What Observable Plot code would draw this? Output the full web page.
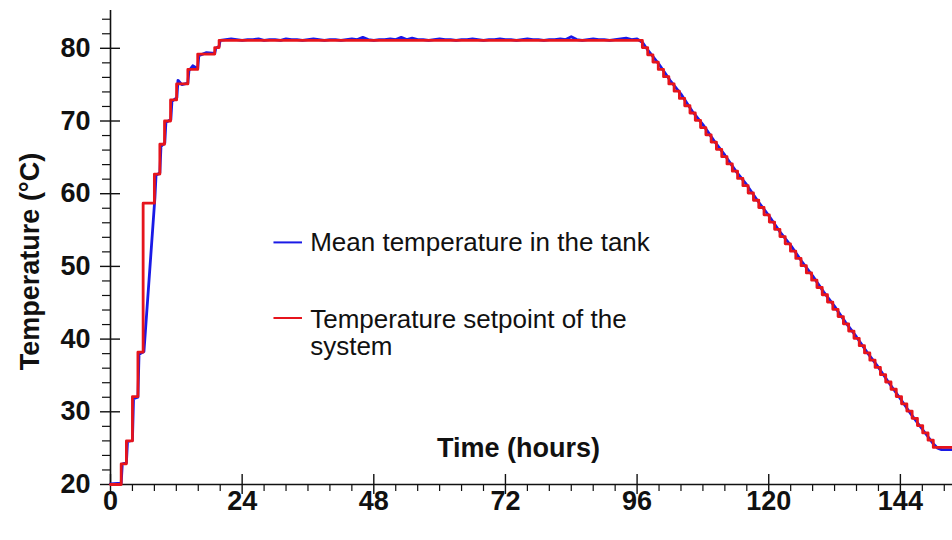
<!DOCTYPE html>
<html>
<head>
<meta charset="utf-8">
<script src="https://cdn.jsdelivr.net/npm/d3@7"></script>
<script src="https://cdn.jsdelivr.net/npm/@observablehq/plot@0.6"></script>
<style>
  html, body { margin: 0; padding: 0; background: #fff; }
</style>
</head>
<body>
<div id="chart"></div>
<script>
// ---------- DATA (hours, °C) ----------
const xMajorTicks = [0, 24, 48, 72, 96, 120, 144];
const xMinorTicks = [4, 8, 12, 16, 20, 28, 32, 36, 40, 44, 52, 56, 60, 64, 68, 76, 80, 84, 88, 92,
                     100, 104, 108, 112, 116, 124, 128, 132, 136, 140, 148, 152];
const yMajorTicks = [20, 30, 40, 50, 60, 70, 80];
const yMinorTicks = [22, 24, 26, 28, 32, 34, 36, 38, 42, 44, 46, 48, 52, 54, 56, 58,
                     62, 64, 66, 68, 72, 74, 76, 78, 82, 84];

// Temperature setpoint (step changes: [hour, °C] from that hour on)
const setpointRise = [
  [0, 20.0], [1.95, 22.85], [2.9, 26.0], [4.0, 32.1], [5.0, 38.2], [5.95, 58.7],
  [8.0, 62.7], [9.0, 66.8], [9.85, 70.0], [10.95, 72.9], [12.05, 75.1], [14.1, 77.1],
  [15.9, 79.2], [19.0, 80.1], [19.8, 81.1]
];
const setpointFall = [
  [96.00, 81.1], [96.96, 80.1], [97.93, 79.1], [98.89, 78.1], [99.86, 77.1], [100.82, 76.1],
  [101.79, 75.1], [102.75, 74.1], [103.71, 73.1], [104.68, 72.1], [105.64, 71.1], [106.61, 70.1],
  [107.57, 69.1], [108.54, 68.1], [109.50, 67.1], [110.46, 66.1], [111.43, 65.1], [112.39, 64.1],
  [113.36, 63.1], [114.32, 62.1], [115.29, 61.1], [116.25, 60.1], [117.21, 59.1], [118.18, 58.1],
  [119.14, 57.1], [120.11, 56.1], [121.07, 55.1], [122.04, 54.1], [123.00, 53.1], [123.96, 52.1],
  [124.93, 51.1], [125.89, 50.1], [126.86, 49.1], [127.82, 48.1], [128.79, 47.1], [129.75, 46.1],
  [130.71, 45.1], [131.68, 44.1], [132.64, 43.1], [133.61, 42.1], [134.57, 41.1], [135.54, 40.1],
  [136.50, 39.1], [137.46, 38.1], [138.43, 37.1], [139.39, 36.1], [140.36, 35.1], [141.32, 34.1],
  [142.29, 33.1], [143.25, 32.1], [144.21, 31.1], [145.18, 30.1], [146.14, 29.1], [147.11, 28.1],
  [148.07, 27.1], [149.04, 26.1], [150.00, 25.1], [153.5, 25.1]
];

// Mean temperature in the tank
const meanRise = [
  [0, 20.1], [1.95, 20.2], [2.15, 22.8], [2.9, 23.0], [3.1, 25.9], [4.0, 26.1],
  [4.2, 31.8], [5.0, 32.0], [5.2, 37.9], [6.1, 38.3], [8.1, 59.5], [8.3, 62.5],
  [9.0, 62.9], [9.2, 66.5], [9.9, 67.0], [10.1, 69.8], [11.0, 70.2], [11.2, 72.7],
  [12.1, 73.2], [12.3, 75.6], [13.0, 75.0], [14.1, 75.2], [14.3, 76.9], [15.0, 77.6],
  [15.9, 77.2], [16.1, 79.0], [17.5, 79.4], [19.0, 79.3], [19.2, 80.0], [19.8, 80.3]
];
const meanHold = [
  [20, 81.1], [21, 81.2], [22, 81.3], [23, 81.2], [24, 81.1], [25, 81.2], [26, 81.2], [27, 81.3],
  [28, 81.1], [29, 81.2], [30, 81.2], [31, 81.1], [32, 81.3], [33, 81.2], [34, 81.2], [35, 81.1],
  [36, 81.2], [37, 81.3], [38, 81.2], [39, 81.1], [40, 81.2], [41, 81.2], [42, 81.1], [43, 81.2],
  [44, 81.3], [45, 81.2], [46, 81.5], [47, 81.2], [48, 81.1], [49, 81.2], [50, 81.2], [51, 81.3],
  [52, 81.2], [53, 81.5], [54, 81.2], [55, 81.4], [56, 81.2], [57, 81.2], [58, 81.1], [59, 81.2],
  [60, 81.3], [61, 81.2], [62, 81.2], [63, 81.1], [64, 81.2], [65, 81.2], [66, 81.3], [67, 81.2],
  [68, 81.1], [69, 81.2], [70, 81.2], [71, 81.3], [72, 81.2], [73, 81.2], [74, 81.1], [75, 81.2],
  [76, 81.3], [77, 81.2], [78, 81.2], [79, 81.1], [80, 81.2], [81, 81.2], [82, 81.3], [83, 81.2],
  [84, 81.6], [85, 81.2], [86, 81.1], [87, 81.2], [88, 81.3], [89, 81.2], [90, 81.2], [91, 81.1],
  [92, 81.2], [93, 81.3], [94, 81.4], [95, 81.2], [96, 81.3]
];
const meanFall = [
  [97, 80.8], [98, 79.7], [100, 77.8], [102, 75.6], [104, 73.7], [106, 71.4], [108, 69.5],
  [110, 67.3], [112, 65.3], [114, 63.1], [116, 61.2], [118, 59.0], [120, 57.0], [122, 54.8],
  [124, 52.9], [126, 50.7], [128, 48.7], [130, 46.5], [132, 44.5], [134, 42.3], [136, 40.3],
  [138, 38.1], [140, 36.1], [142, 33.9], [144, 31.8], [146, 29.6], [148, 27.6], [149, 26.6],
  [150, 25.6], [150.8, 25.0], [151.5, 24.8], [153.5, 24.8]
];

const xLabel = "Time (hours)";
const yLabel = "Temperature (°C)";
const meanLabel = "Mean temperature in the tank";
const setpointLabel = "Temperature setpoint of the\nsystem";

// ---------- CHART ----------
const xMin = 0, xMax = 153.5, yMin = 20, yMax = 85.2;
const blue = "#1a1ae6", red = "#e6141c", ink = "#111";
const font = "'Liberation Sans', Arial, Helvetica, sans-serif";
const meanSeries = [...meanRise, ...meanHold, ...meanFall];
const setSeries = [...setpointRise, ...setpointFall];

// legend anchor (data units)
const legX1 = 29.8, legX2 = 35.0, legTextX = 36.4, legMeanY = 53.3, legSetY = 42.9;

const chart = Plot.plot({
  width: 952,
  height: 540,
  marginLeft: 110,
  marginRight: 0,
  marginTop: 10,
  marginBottom: 56,
  x: {domain: [xMin, xMax], axis: null},
  y: {domain: [yMin, yMax], axis: null},
  style: {fontFamily: font, background: "#fff", overflow: "visible"},
  marks: [
    // axes lines
    Plot.ruleY([yMin], {stroke: ink, strokeWidth: 1.6}),
    Plot.ruleX([xMin], {stroke: ink, strokeWidth: 1.6}),
    // x ticks
    Plot.ruleX(xMajorTicks, {x: d => d, y1: yMin, y2: yMin, inset: -10, stroke: ink, strokeWidth: 1.4}),
    Plot.ruleX(xMinorTicks, {x: d => d, y1: yMin, y2: yMin, insetTop: 0, insetBottom: -7, stroke: ink, strokeWidth: 1.2}),
    // y ticks
    Plot.ruleY(yMajorTicks, {y: d => d, x1: xMin, x2: xMin, inset: -10, stroke: ink, strokeWidth: 1.4}),
    Plot.ruleY(yMinorTicks, {y: d => d, x1: xMin, x2: xMin, insetLeft: -8, insetRight: 0, stroke: ink, strokeWidth: 1.2}),
    // tick labels
    Plot.text(xMajorTicks, {x: d => d, y: yMin, dy: 17, text: d => String(d), fontSize: 27, fontWeight: "bold", fill: ink}),
    Plot.text(yMajorTicks, {x: xMin, y: d => d, dx: -20, text: d => String(d), textAnchor: "end", fontSize: 27, fontWeight: "bold", fill: ink}),
    // axis titles
    Plot.text([yLabel], {frameAnchor: "left", textAnchor: "middle", dx: -80, dy: 14, rotate: -90, fontSize: 27, fontWeight: "bold", fill: ink}),
    Plot.text([xLabel], {frameAnchor: "bottom", textAnchor: "middle", dx: -13, dy: -28, fontSize: 27, fontWeight: "bold", fill: ink}),
    // data
    Plot.line(meanSeries, {x: d => d[0], y: d => d[1], stroke: blue, strokeWidth: 2.8}),
    Plot.line(setSeries, {x: d => d[0], y: d => d[1], stroke: red, strokeWidth: 2.8, curve: "step-after"}),
    // legend
    Plot.ruleY([legMeanY], {x1: legX1, x2: legX2, stroke: blue, strokeWidth: 2}),
    Plot.ruleY([legSetY], {x1: legX1, x2: legX2, stroke: red, strokeWidth: 2}),
    Plot.text([meanLabel], {x: legTextX, y: legMeanY, textAnchor: "start", fontSize: 26, fill: ink}),
    Plot.text([setpointLabel], {x: legTextX, y: legSetY, dy: -10, lineAnchor: "top", lineHeight: 1.06, textAnchor: "start", fontSize: 26, fill: ink})
  ]
});
document.getElementById("chart").appendChild(chart);
</script>
</body>
</html>
